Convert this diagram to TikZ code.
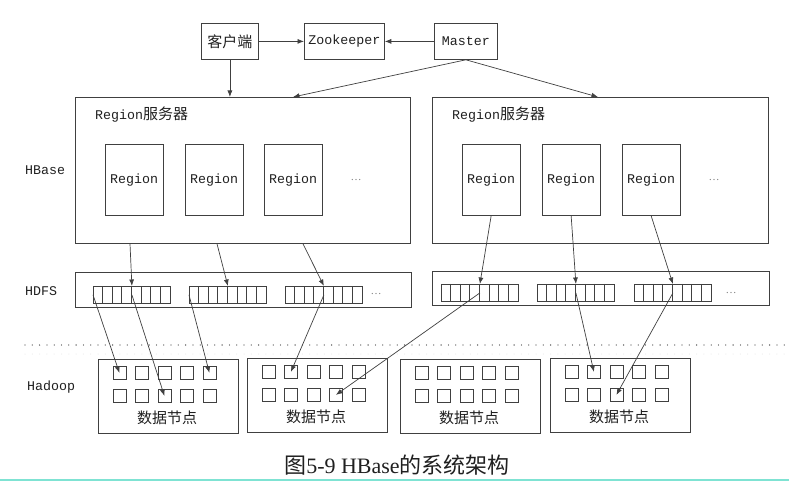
\documentclass[tikz,border=0pt]{standalone}
\usepackage{fontspec}
\setmainfont{Liberation Serif}
\newfontfamily\dmono{Liberation Mono}
\newfontfamily\dcjk{Noto Sans CJK SC}
\usetikzlibrary{arrows.meta,calc}
\definecolor{linec}{HTML}{404040}
\definecolor{txtc}{HTML}{202020}
\definecolor{cyanline}{HTML}{7FE3D3}
\newcommand\zhf{\dcjk\fontsize{15bp}{16bp}\selectfont}
\tikzset{
 box/.style={draw=linec, line width=0.8bp, inner sep=0pt, anchor=north west, text=txtc,
   font=\dmono\fontsize{13.3bp}{16bp}\selectfont},
 conn/.style={draw=linec, line width=0.7bp, -{Latex[length=6.5bp,width=5bp]}},
 lbl/.style={anchor=west, inner sep=0pt, text=txtc, font=\dmono\fontsize{13.3bp}{16bp}\selectfont},
 dotsl/.style={inner sep=0pt, text=black!50, font=\fontsize{11bp}{12bp}\selectfont},
 sqbox/.style={draw=linec, line width=0.8bp, minimum size=13bp, inner sep=0pt, anchor=north west},
 dotline/.style={draw=linec, line width=1.3bp, line cap=round, dash pattern=on 0bp off 7.3bp},
}
\newcommand\hstrip[3]{%
  \node[box, minimum width=77bp, minimum height=17bp] (#1) at (#2,#3) {};
  \foreach \kk in {1,...,7}
    \draw[draw=linec, line width=0.8bp] ($(#1.north west)+(\kk*9.625,0)$) -- ($(#1.south west)+(\kk*9.625,0)$);
}
\newcommand\dnode[3]{%
  \node[box, minimum width=139.5bp, minimum height=73.5bp] (#1) at (#2,#3) {};
  \foreach \rr in {1,2}
    \foreach \cc in {1,...,5}
      \node[sqbox] (#1-\rr-\cc) at ({#2+14.5+(\cc-1)*22.5},{#3+7+(\rr-1)*23}) {};
  \node[inner sep=0pt, text=txtc] (#1-t) at (#2+69,#3+59) {\zhf 数据节点};
}
\begin{document}
\begin{tikzpicture}[x=1bp,y=-1bp]
\useasboundingbox (0,0) rectangle (789,481);
\fill[white] (0,0) rectangle (789,481);

% top row
\node[box, minimum width=57bp, minimum height=36bp] (client) at (201,23) {\zhf 客户端};
\node[box, minimum width=80bp, minimum height=36bp] (zk) at (304,23) {Zookeeper};
\node[box, minimum width=63bp, minimum height=36bp] (master) at (434,23) {Master};

% region servers
\node[box, minimum width=335bp, minimum height=146bp] (rsL) at (75,97) {};
\node[box, minimum width=336bp, minimum height=146bp] (rsR) at (432,97) {};
\node[lbl] (rsLt) at (95,115) {Region{\zhf 服务器}};
\node[lbl] (rsRt) at (452,115) {Region{\zhf 服务器}};

\node[box, minimum width=57.5bp, minimum height=71bp] (rL1) at (105,144) {Region};
\node[box, minimum width=57.5bp, minimum height=71bp] (rL2) at (185,144) {Region};
\node[box, minimum width=57.5bp, minimum height=71bp] (rL3) at (264,144) {Region};
\node[box, minimum width=57.5bp, minimum height=71bp] (rR1) at (462,144) {Region};
\node[box, minimum width=57.5bp, minimum height=71bp] (rR2) at (542,144) {Region};
\node[box, minimum width=57.5bp, minimum height=71bp] (rR3) at (622,144) {Region};
\node[dotsl] (dL) at (356,180) {\dots};
\node[dotsl] (dR) at (714,180) {\dots};

% side labels
\node[lbl] (lhb) at (25,170) {HBase};
\node[lbl] (lhd) at (25,291) {HDFS};
\node[lbl] (lha) at (27,387) {Hadoop};

% HDFS
\node[box, minimum width=336bp, minimum height=35bp] (hdL) at (75,272) {};
\node[box, minimum width=337bp, minimum height=34bp] (hdR) at (432,271) {};
\hstrip{sL1}{93}{286}
\hstrip{sL2}{189}{286}
\hstrip{sL3}{285}{286}
\hstrip{sR1}{441}{284}
\hstrip{sR2}{537}{284}
\hstrip{sR3}{634}{284}
\node[dotsl] (dHL) at (376,294) {\dots};
\node[dotsl] (dHR) at (731,293) {\dots};

% dotted separators
\coordinate (dotA) at (25,345);
\coordinate (dotB) at (786,345);
\draw[dotline] (dotA) -- (dotB);
\coordinate (dotC) at (25,354);
\coordinate (dotD) at (786,354);
\draw[dotline, draw=black!10, line width=1bp] (dotC) -- (dotD);

% data nodes
\dnode{dn1}{98}{359}
\dnode{dn2}{247}{358}
\dnode{dn3}{400}{359}
\dnode{dn4}{550}{358}

% connectors top
\draw[conn] (client) -- (zk);
\draw[conn] (master) -- (zk);
\draw[conn] (client.south) -- (client.south |- rsL.north);
\draw[conn] (master.south) -- ($(rsL.north west)+(218,0)$);
\draw[conn] (master.south) -- ($(rsR.north west)+(166,0)$);

% regions to HDFS
\draw[conn] ($(rsL.south west)+(55,0)$) -- (sL1.north);
\draw[conn] ($(rsL.south west)+(142,0)$) -- (sL2.north);
\draw[conn] ($(rsL.south west)+(228,0)$) -- (sL3.north);
\draw[conn] (rR1.south) -- (sR1.north);
\draw[conn] (rR2.south) -- (sR2.north);
\draw[conn] (rR3.south) -- (sR3.north);

% HDFS to data nodes
\draw[conn] (sL1.west) -- (dn1-1-1.center);
\draw[conn] (sL1.center) -- (dn1-2-3.center);
\draw[conn] (sL2.west) -- (dn1-1-5.center);
\draw[conn] (sL3.center) -- (dn2-1-2.center);
\draw[conn] (sR1.center) -- (dn2-2-4.center);
\draw[conn] (sR2.center) -- (dn4-1-2.center);
\draw[conn] (sR3.center) -- (dn4-2-3.center);

% caption
\node[anchor=base, inner sep=0pt, text=txtc] (cap) at (397,473)
  {\fontsize{22bp}{24bp}\selectfont{\dcjk 图}5-9 HBase{\dcjk 的系统架构}};
\draw[cyanline, line width=2bp] (0,480) -- (789,480);
\end{tikzpicture}
\end{document}
